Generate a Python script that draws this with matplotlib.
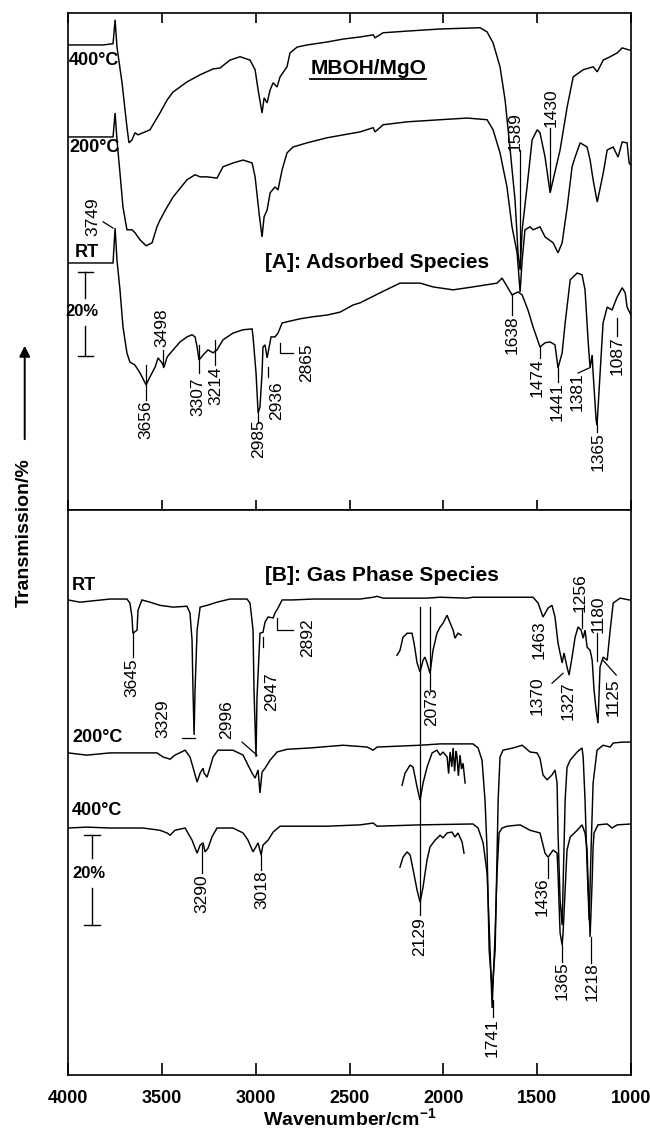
import numpy as np
import matplotlib
matplotlib.use("Agg")
import matplotlib.pyplot as plt
from matplotlib.lines import Line2D
from matplotlib.patches import FancyArrowPatch
from matplotlib.transforms import IdentityTransform

plt.rcParams['font.family'] = ['Liberation Sans', 'DejaVu Sans']

# ---- [A] adsorbed species: (wavenumber, transmission %) with stacking offsets
a400 = [(4000,110.7),(3813,110.7),(3760,111.0),(3749,116.7),(3739,110.2),(3712,101.7),(3686,91.2),
        (3675,87.4),(3659,88.1),(3643,89.8),(3627,89.3),(3600,89.8),(3563,90.5),(3526,93.3),(3510,94.5),
        (3472,97.6),(3440,99.5),(3366,101.9),(3296,103.6),(3227,105.0),(3190,105.2),(3137,107.1),
        (3083,107.9),(3030,107.1),(3003,104.8),(2987,100.0),(2966,94.5),(2955,98.1),(2939,96.9),
        (2923,100.0),(2907,101.7),(2886,100.7),(2870,103.1),(2833,105.5),(2817,108.8),(2779,110.2),
        (2726,110.7),(2620,111.4),(2534,112.1),(2444,112.6),(2374,113.1),(2364,112.4),(2321,113.6),
        (2193,114.0),(2017,114.5),(1804,114.8),(1767,113.8),(1735,111.2),(1698,105.5),(1671,97.6),
        (1644,85.7),(1618,73.8),(1602,61.2),(1591,57.1),(1580,66.7),(1554,76.9),(1527,88.1),(1500,90.5),
        (1485,89.8),(1458,84.0),(1431,75.5),(1415,78.6),(1378,85.7),(1340,96.0),(1308,103.1),
        (1255,104.8),(1202,105.5),(1180,104.3),(1148,107.1),(1111,107.9),(1074,108.8),(1047,110.0),
        (1010,109.5),(1000,109.5)]

a200 = [(4000,88.8),(3813,88.8),(3760,88.8),(3749,94.5),(3739,88.1),(3723,80.2),(3707,72.1),(3686,66.7),
        (3659,66.7),(3643,66.0),(3616,64.3),(3584,62.9),(3552,63.6),(3526,67.4),(3510,69.0),(3472,72.1),
        (3440,74.5),(3366,78.6),(3323,79.8),(3296,79.3),(3259,79.3),(3206,79.0),(3174,81.7),(3121,82.6),
        (3067,83.3),(3019,82.6),(3003,79.3),(2982,70.7),(2966,65.0),(2955,69.8),(2939,71.4),(2923,75.5),
        (2897,76.9),(2881,76.2),(2859,81.0),(2833,85.0),(2801,86.4),(2726,87.4),(2620,88.6),(2444,90.0),
        (2374,91.0),(2364,90.0),(2321,91.7),(2193,92.4),(2017,92.9),(1873,93.3),(1767,92.9),(1735,90.5),
        (1698,85.0),(1661,76.9),(1634,67.4),(1607,61.2),(1591,51.9),(1580,59.5),(1565,66.7),(1538,67.4),
        (1522,66.7),(1485,67.4),(1458,65.0),(1415,63.6),(1389,61.2),(1367,63.6),(1340,72.1),(1314,81.7),
        (1298,84.0),(1271,87.4),(1234,86.4),(1218,83.3),(1202,78.6),(1180,73.3),(1148,80.2),(1127,85.7),
        (1095,86.4),(1069,84.0),(1047,87.6),(1021,87.4),(1010,82.6),(1000,82.0)]

aRT = [(4000,58.8),(3760,58.8),(3749,67.1),(3739,59.5),(3723,52.4),(3707,43.6),(3686,37.4),(3670,35.2),
       (3643,34.5),(3616,32.6),(3584,29.8),(3563,31.7),(3536,34.0),(3520,36.2),(3499,35.0),(3488,34.0),
       (3472,36.4),(3440,38.1),(3403,40.0),(3366,41.2),(3339,41.7),(3323,41.2),(3312,38.8),(3302,35.7),
       (3280,36.9),(3254,38.1),(3227,37.4),(3206,38.1),(3174,40.5),(3121,42.1),(3067,42.9),(3019,43.1),
       (3014,41.2),(2998,32.6),(2987,23.1),(2977,24.5),(2966,32.6),(2961,38.8),(2950,39.3),(2939,36.2),
       (2934,37.4),(2918,41.2),(2897,41.2),(2881,42.1),(2859,44.5),(2833,44.8),(2764,45.5),(2694,46.0),
       (2620,46.4),(2550,47.1),(2481,48.8),(2444,49.3),(2337,51.7),(2231,54.0),(2124,54.0),(2055,53.1),
       (1948,52.4),(1842,53.1),(1714,54.0),(1687,55.2),(1671,54.0),(1634,51.2),(1602,51.9),(1580,51.2),
       (1549,47.6),(1522,43.6),(1485,38.8),(1458,39.8),(1431,40.0),(1405,39.3),(1389,33.8),(1367,37.4),
       (1351,44.5),(1324,54.8),(1287,56.4),(1261,56.0),(1245,52.4),(1229,40.5),(1218,33.8),(1207,36.9),
       (1202,32.6),(1186,21.4),(1181,20.2),(1170,28.6),(1149,44.5),(1127,48.3),(1101,47.6),(1074,50.7),
       (1047,52.9),(1031,51.7),(1021,48.3),(1000,46.4)]

# ---- [B] gas phase species
bRT = [(4000,105.6),(3936,105.1),(3776,105.8),(3686,105.8),(3670,104.9),(3659,101.8),(3654,98.2),
       (3632,98.9),(3627,103.3),(3606,105.6),(3563,105.1),(3510,104.4),(3440,104.0),(3366,104.2),
       (3350,102.7),(3339,96.7),(3334,85.6),(3328,75.6),(3323,85.6),(3312,98.9),(3296,104.0),(3259,104.4),
       (3206,105.1),(3137,105.8),(3046,105.8),(3030,104.9),(3014,98.9),(3009,85.6),(2998,70.7),(2993,83.8),
       (2977,98.2),(2961,98.4),(2950,100.7),(2934,101.8),(2907,101.6),(2897,102.7),(2881,103.8),
       (2859,105.6),(2801,105.6),(2694,105.8),(2444,105.8),(2374,106.2),(2353,106.4),(2321,106.0),
       (2087,106.0),(2017,106.2),(1873,106.0),(1842,106.2),(1522,106.2),(1495,104.9),(1469,101.8),
       (1442,103.8),(1421,104.4),(1405,101.8),(1389,96.0),(1367,91.6),(1357,93.8),(1341,90.7),(1330,88.9),
       (1314,92.9),(1298,97.3),(1282,99.6),(1266,98.9),(1255,97.1),(1245,98.9),(1234,95.1),(1218,94.4),
       (1207,92.2),(1197,85.6),(1186,81.1),(1176,78.2),(1165,90.7),(1149,92.9),(1127,92.2),(1111,98.9),
       (1095,104.9),(1058,106.0),(1010,105.6),(1000,105.6)]

bRT_cut = [(2247,93.3),(2231,94.4),(2215,97.3),(2193,98.2),(2167,98.2),(2156,96.0),(2140,91.6),(2124,89.6),
           (2108,92.2),(2098,92.9),(2087,91.6),(2071,89.3),(2055,94.4),(2034,98.2),(2017,99.6),(2002,100.4),
           (1980,102.2),(1970,101.1),(1948,98.9),(1938,97.1),(1922,98.2),(1906,97.8)]

b200 = [(4000,71.6),(3899,71.1),(3776,71.6),(3526,71.6),(3494,70.7),(3456,70.2),(3430,71.1),(3376,72.2),
        (3350,70.7),(3334,68.4),(3312,65.1),(3296,67.1),(3280,68.2),(3275,67.1),(3259,66.2),(3243,68.4),
        (3227,70.7),(3201,72.2),(3121,72.2),(3067,71.1),(3041,68.9),(3019,67.1),(3003,66.0),(2987,67.8),
        (2977,62.7),(2966,67.3),(2950,68.2),(2923,70.0),(2886,71.8),(2833,72.4),(2710,72.7),(2534,73.3),
        (2406,72.9),(2374,72.2),(2353,72.9),(2124,73.3),(2017,73.6),(1842,73.6),(1815,72.7),(1794,70.0),
        (1778,61.1),(1767,50.0),(1756,27.8),(1740,18.9),(1724,27.8),(1708,61.1),(1698,70.7),(1682,72.2),
        (1628,72.7),(1580,73.3),(1538,71.8),(1501,71.6),(1485,70.4),(1469,66.7),(1447,65.6),(1421,66.7),
        (1405,67.8),(1394,64.9),(1389,53.8),(1378,38.9),(1367,33.3),(1351,61.1),(1341,68.4),(1324,70.0),
        (1287,71.8),(1261,72.7),(1255,70.7),(1245,61.1),(1234,46.2),(1223,34.4),(1213,50.0),(1202,64.9),
        (1181,72.2),(1149,73.3),(1111,72.9),(1095,73.8),(1042,74.0),(1000,74.0)]

b200_cut = [(2220,64.4),(2204,67.1),(2177,68.9),(2161,68.4),(2140,64.0),(2124,61.1),(2108,64.9),(2087,68.4),
            (2060,71.6),(2034,72.2),(2017,71.1),(2002,71.8),(1980,70.7),(1972,67.0),(1964,71.8),(1955,68.5),
            (1948,72.7),(1940,67.5),(1932,72.0),(1927,70.7),(1920,66.5),(1911,71.1),(1903,68.0),(1895,69.3),
            (1884,64.9)]

b400 = [(4000,54.9),(3899,55.1),(3776,54.9),(3600,54.9),(3510,54.4),(3472,53.8),(3456,53.3),(3430,54.4),
        (3376,54.9),(3339,52.2),(3312,49.3),(3296,51.1),(3280,51.6),(3270,49.6),(3254,50.4),(3233,52.9),
        (3206,54.9),(3121,54.9),(3067,53.8),(3041,52.2),(3014,49.6),(2987,51.6),(2971,48.9),(2961,51.1),
        (2934,52.2),(2907,54.0),(2870,55.3),(2620,55.3),(2444,55.6),(2374,56.0),(2353,55.3),(2124,55.6),
        (1842,55.8),(1815,54.9),(1788,51.6),(1767,44.9),(1751,27.8),(1740,14.9),(1724,31.6),(1714,44.9),
        (1703,53.8),(1687,54.9),(1660,55.3),(1591,55.6),(1538,54.4),(1485,53.8),(1458,49.3),(1442,48.4),
        (1415,50.0),(1394,49.3),(1389,44.9),(1378,31.6),(1367,28.9),(1362,31.6),(1341,50.0),(1324,52.9),
        (1287,54.4),(1261,55.6),(1245,53.8),(1234,50.0),(1229,43.3),(1218,30.7),(1207,43.3),(1202,50.7),
        (1197,53.8),(1176,55.6),(1127,55.8),(1101,54.9),(1074,55.6),(1000,55.8)]

b400_cut = [(2231,46.2),(2215,48.4),(2193,49.6),(2177,48.9),(2161,45.6),(2140,41.1),(2124,38.4),(2108,41.8),
            (2087,47.8),(2071,50.7),(2044,52.2),(2017,53.3),(2002,52.7),(1980,53.8),(1954,54.0),(1938,52.9),
            (1922,53.8),(1900,51.8),(1890,49.3)]

# peak labels: text, label centre (wn, T), leader polyline
peaks_A = [("3749", 3867, 69.8, [(3813, 68.6), (3760, 67.1)]),
           ("3656", 3584, 21.4, [(3584, 34.5), (3584, 26.2)]),
           ("3498", 3499, 43.3, [(3494, 38.1), (3494, 34.0)]),
           ("3307", 3307, 26.9, [(3302, 39.3), (3302, 32.6)]),
           ("3214", 3211, 29.5, [(3216, 40.5), (3216, 34.5)]),
           ("2985", 2982, 17.1, [(2987, 23.1), (2987, 21.0)]),
           ("2936", 2886, 26.0, [(2934, 34.0), (2934, 31.7)]),
           ("2865", 2726, 35.0, [(2870, 39.8), (2870, 37.4), (2801, 37.4)]),
           ("1589", 1618, 90.0, [(1591, 85.7), (1591, 59.0)]),
           ("1430", 1426, 95.7, [(1431, 91.0), (1431, 76.2)]),
           ("1638", 1633, 41.7, [(1634, 51.2), (1634, 46.4)]),
           ("1474", 1500, 31.4, [(1485, 38.8), (1485, 36.2)]),
           ("1441", 1394, 25.7, [(1389, 33.8), (1389, 30.5)]),
           ("1381", 1287, 28.1, [(1282, 32.6), (1223, 33.8)]),
           ("1365", 1175, 14.0, [(1181, 20.2), (1181, 18.6)]),
           ("1087", 1074, 36.7, [(1074, 45.7), (1074, 41.4)])]

peaks_B = [("3645", 3659, 88.4, [(3654, 98.2), (3654, 92.9)]),
           ("3329", 3494, 79.1, [(3392, 74.9), (3323, 74.9)]),
           ("2996", 3153, 78.9, [(3073, 74.0), (2993, 71.1)]),
           ("2947", 2913, 85.1, [(2961, 97.3), (2961, 95.1)]),
           ("2892", 2721, 97.3, [(2886, 101.6), (2886, 98.9), (2801, 98.9)]),
           ("2073", 2060, 81.8, [(2071, 104.0), (2071, 85.6)]),
           ("1463", 1490, 96.7, []),
           ("1370", 1500, 84.4, [(1421, 87.1), (1362, 89.3)]),
           ("1327", 1335, 83.3, []),
           ("1256", 1271, 107.3, [(1260, 103.3), (1260, 99.3)]),
           ("1180", 1175, 102.4, [(1181, 98.2), (1181, 92.0)]),
           ("1125", 1095, 84.0, [(1149, 92.2), (1079, 88.9)]),
           ("3290", 3286, 40.4, [(3286, 51.1), (3286, 44.9)]),
           ("3018", 2966, 41.1, [(2971, 48.9), (2971, 45.6)]),
           ("2129", 2124, 30.7, [(2124, 104.0), (2124, 35.6)]),
           ("1741", 1740, 8.4, [(1735, 16.7), (1735, 12.9)]),
           ("1436", 1474, 39.6, [(1442, 48.2), (1442, 43.8)]),
           ("1365", 1367, 20.9, [(1367, 28.9), (1367, 25.1)]),
           ("1218", 1207, 20.7, [(1213, 30.7), (1213, 24.9)])]

ticks = [4000, 3500, 3000, 2500, 2000, 1500, 1000]

LW = 1.05
fig = plt.figure(figsize=(6.5, 11.33), dpi=100)
axA = fig.add_axes([0.1046, 0.5499, 0.8662, 0.4386])
axB = fig.add_axes([0.1046, 0.0512, 0.8662, 0.4987], sharex=axA)


def trace(ax, pts, lw=LW):
    arr = np.array(pts)
    ax.plot(arr[:, 0], arr[:, 1], color='k', lw=lw, solid_joinstyle='miter')


def label_peaks(ax, peaks):
    for txt, x, y, lead in peaks:
        ax.text(x, y, txt, rotation=90, ha='center', va='center', fontsize=12.5)
        if lead:
            lead = np.array(lead)
            ax.plot(lead[:, 0], lead[:, 1], color='k', lw=0.9)


def scale_bar(ax, x, lo, hi, gap, half=40):
    ax.plot([x, x], [lo, gap[0]], color='k', lw=1.0)
    ax.plot([x, x], [gap[1], hi], color='k', lw=1.0)
    ax.plot([x - half, x + half], [lo, lo], color='k', lw=1.0)
    ax.plot([x - half, x + half], [hi, hi], color='k', lw=1.0)
    ax.text(x + 15, (gap[0] + gap[1]) / 2, '20%', ha='center', va='center',
            fontsize=12, fontweight='bold')


for s in (a400, a200, aRT):
    trace(axA, s)
for s in (bRT, bRT_cut, b200, b200_cut, b400, b400_cut):
    trace(axB, s)

label_peaks(axA, peaks_A)
label_peaks(axB, peaks_B)

# spectrum names
axA.text(3995, 107.1, '400°C', ha='left', va='center', fontsize=13, fontweight='bold')
axA.text(3995, 86.2, '200°C', ha='left', va='center', fontsize=13, fontweight='bold')
axA.text(3899, 61.4, 'RT', ha='center', va='center', fontsize=13, fontweight='bold')
axB.text(3978, 108.9, 'RT', ha='left', va='center', fontsize=13, fontweight='bold')
axB.text(3978, 75.1, '200°C', ha='left', va='center', fontsize=13, fontweight='bold')
axB.text(3978, 58.7, '400°C', ha='left', va='center', fontsize=13, fontweight='bold')

title = axA.text(2401, 105.2, 'MBOH/MgO', ha='center', va='center', fontsize=15, fontweight='bold')
axA.text(2353, 59.0, '[A]: Adsorbed Species', ha='center', va='center', fontsize=15, fontweight='bold')
axB.text(2326, 111.1, '[B]: Gas Phase Species', ha='center', va='center', fontsize=15, fontweight='bold')

scale_bar(axA, 3909, 36.7, 56.7, (43.8, 50.5))
scale_bar(axB, 3872, 33.3, 53.3, (41.6, 48.2), half=45)

axA.set_xlim(4000, 1000)
axA.set_ylim(0, 118.3)
axB.set_ylim(0, 125.6)
axB.set_xticks(ticks)

for ax in (axA, axB):
    for sp in ax.spines.values():
        sp.set_linewidth(1.2)
    ax.tick_params(axis='y', left=False, labelleft=False)
axA.tick_params(axis='x', direction='in', top=True, bottom=True, labelbottom=False,
                length=7.5, width=1.2)
axB.tick_params(axis='x', direction='in', top=False, bottom=True, length=8.5, width=1.2,
                labelsize=13, pad=11)
for t in axB.get_xticklabels():
    t.set_fontweight('bold')
axB.set_xlabel(r'Wavenumber/cm$^{\mathregular{-1}}$', fontsize=14, fontweight='bold', labelpad=0)

fig.text(0.038, 0.5296, 'Transmission/%', rotation=90, ha='center', va='center',
         fontsize=14, fontweight='bold')
fig.add_artist(FancyArrowPatch((0.038, 0.6099), (0.038, 0.6973), transform=fig.transFigure,
                               arrowstyle='-|>', mutation_scale=16, lw=1.4, color='k'))

# underline the sample name
fig.canvas.draw()
bb = title.get_window_extent()
fig.add_artist(Line2D([bb.x0, bb.x1], [bb.y0 - 1, bb.y0 - 1], transform=IdentityTransform(),
                      color='k', lw=1.3))

fig.savefig('out.png', dpi=100)
